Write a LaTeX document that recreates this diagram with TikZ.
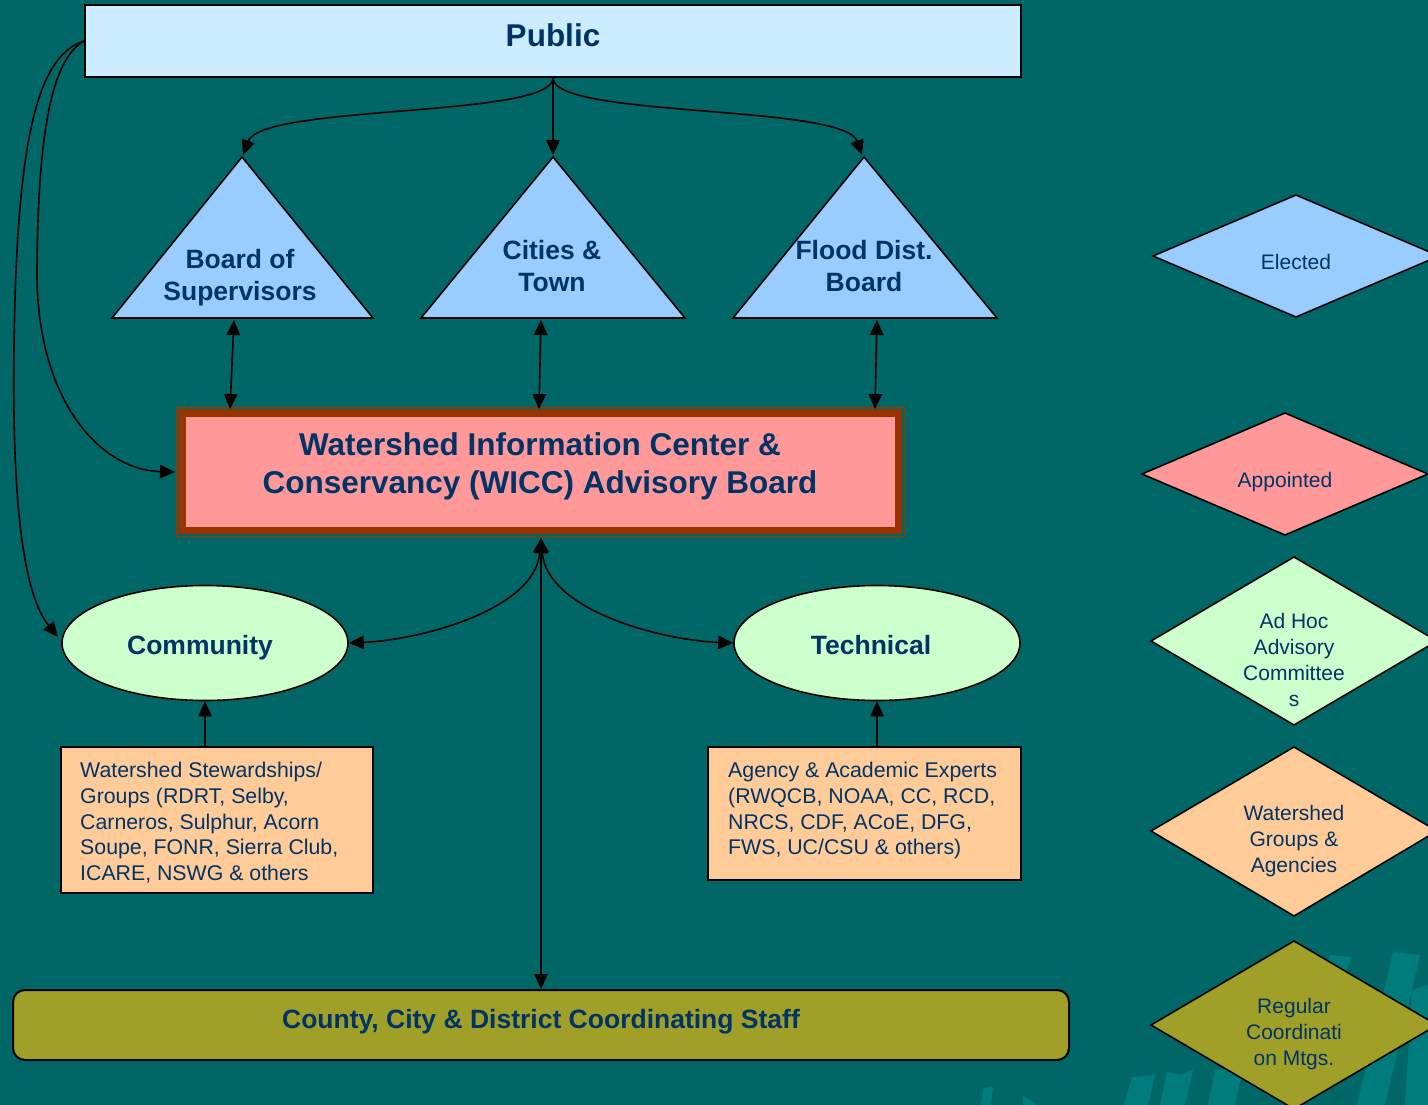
\documentclass[tikz,border=0pt]{standalone}
\usepackage{fontspec}
\setmainfont{Liberation Sans}
\usetikzlibrary{arrows.meta,shapes.geometric}
\definecolor{bgc}{RGB}{0,102,102}
\definecolor{wmc}{RGB}{0,124,124}
\definecolor{publicc}{RGB}{204,236,255}
\definecolor{tric}{RGB}{153,204,255}
\definecolor{pinkc}{RGB}{255,153,153}
\definecolor{brownc}{RGB}{153,51,0}
\definecolor{greenc}{RGB}{204,255,204}
\definecolor{orangec}{RGB}{255,204,153}
\definecolor{olivec}{RGB}{160,160,40}
\definecolor{navyc}{RGB}{0,51,102}
\begin{document}
\begin{tikzpicture}[x=1pt,y=-1pt,
  shapebox/.style={draw=black, line width=2pt, inner sep=0pt},
  tritext/.style={text=navyc, inner sep=0pt, align=center, anchor=north, font=\fontsize{26.5}{32}\selectfont\bfseries},
  bigtitle/.style={text=navyc, inner sep=0pt, font=\fontsize{31.5}{38}\selectfont\bfseries},
  bodytext/.style={text=navyc, inner sep=0pt, align=left, anchor=north west, font=\fontsize{21.3}{25.75}\selectfont},
  legtext/.style={text=navyc, inner sep=0pt, align=center, anchor=north, font=\fontsize{21}{26}\selectfont},
  tri/.style={fill=tric, draw=black, line width=1.6pt, line join=miter},
  leg/.style={draw=black, line width=1.6pt},
  arr/.style={line width=1.6pt, -{Triangle[length=15pt,width=13.5pt]}},
  darr/.style={line width=1.6pt, {Triangle[length=15pt,width=13.5pt]}-{Triangle[length=15pt,width=13.5pt]}}
]
\useasboundingbox (0,0) rectangle (1428,1105);
\fill[bgc] (0,0) rectangle (1428,1105);
\clip (0,0) rectangle (1428,1105);

% faint watermark
\fill[wmc] (1393,952) -- (1420,955) -- (1385,1105) -- (1357,1105) -- cycle;
\fill[wmc] (1330,955) -- (1352,957) -- (1335,1000) -- (1315,1000) -- cycle;
\fill[wmc] (1412,990) -- (1428,985) -- (1428,1105) -- (1405,1105) -- cycle;
\fill[wmc] (1132,1077) -- (1155,1075) -- (1148,1105) -- (1124,1105) -- cycle;
\fill[wmc] (1167,1072) -- (1180,1075) -- (1193,1070) -- (1185,1105) -- (1160,1105) -- cycle;
\fill[wmc] (1215,1070) -- (1243,1068) -- (1235,1105) -- (1208,1105) -- cycle;
\fill[wmc] (983,1088) -- (993,1087) -- (991,1105) -- (981,1105) -- cycle;
\fill[wmc] (1023,1095) -- (1037,1105) -- (1023,1105) -- cycle;

% Public
\node[shapebox, fill=publicc, minimum width=936pt, minimum height=72pt] (public) at (553,41) {};
\node[bigtitle] (publictext) at (553,35) {Public};

% Triangles
\path[tri] (112,318) -- (242,157) -- (373,318) -- cycle;
\path[tri] (421,318) -- (553,157) -- (685,318) -- cycle;
\path[tri] (733,318) -- (864,157) -- (997,318) -- cycle;
\coordinate (bosapex) at (243,155);
\coordinate (citapex) at (553,155);
\coordinate (floapex) at (862,155);
\coordinate (bosbase) at (234,320);
\coordinate (citbase) at (541,320);
\coordinate (flobase) at (877,320);
\node[tritext] (bostext) at (240,249) {Board of\\Supervisors};
\node[tritext] (cittext) at (552,240) {Cities \&\\Town};
\node[tritext] (flotext) at (864,240) {Flood Dist.\\Board};

% WICC
\draw[brownc, line width=1.5pt] (176.75,407.75) rectangle (904.25,536.25);
\node[draw=brownc, line width=7pt, fill=pinkc, minimum width=716pt, minimum height=117pt, inner sep=0pt] (wicc) at (540.5,472) {};
\node[bigtitle, align=center, anchor=north] (wicctext) at (540,432.5) {Watershed Information Center \&\\Conservancy (WICC) Advisory Board};
\coordinate (wiccbos) at (230,409);
\coordinate (wicccit) at (539,409);
\coordinate (wiccflo) at (875,409);
\coordinate (wiccleft) at (175,472);
\coordinate (wiccbot) at (541,538);

% Ellipses
\node[ellipse, draw=black, line width=1.6pt, fill=greenc, minimum width=286pt, minimum height=115pt, inner sep=0pt] (community) at (205,643) {};
\node[ellipse, draw=black, line width=1.6pt, fill=greenc, minimum width=286pt, minimum height=115pt, inner sep=0pt] (technical) at (877,643) {};
\node[tritext, anchor=base] (commtext) at (200,654.5) {Community};
\node[tritext, anchor=base] (techtext) at (871,654.5) {Technical};
\coordinate (commin) at (58,637);

% Orange boxes
\node[shapebox, fill=orangec, minimum width=312pt, minimum height=146pt] (lbox) at (217,820) {};
\node[bodytext] (ltext) at (80,762) {Watershed Stewardships/\\Groups (RDRT, Selby,\\Carneros, Sulphur, Acorn\\Soupe, FONR, Sierra Club,\\ICARE, NSWG \& others};
\node[shapebox, fill=orangec, minimum width=313pt, minimum height=133pt] (rbox) at (864.5,813.5) {};
\node[bodytext] (rtext) at (728,762) {Agency \& Academic Experts\\(RWQCB, NOAA, CC, RCD,\\NRCS, CDF, ACoE, DFG,\\FWS, UC/CSU \& others)};

% County
\node[draw=black, line width=2pt, fill=olivec, rounded corners=12pt, minimum width=1056pt, minimum height=70pt, inner sep=0pt] (county) at (541,1025) {};
\node[tritext, anchor=base] (countytext) at (541,1028.5) {County, City \& District Coordinating Staff};

% Connectors
\draw[arr] (public.south) .. controls (553,118) and (262,104) .. (bosapex);
\draw[arr] (public.south) -- (citapex);
\draw[arr] (public.south) .. controls (553,118) and (844,104) .. (floapex);
\draw[darr] (bosbase) -- (wiccbos);
\draw[darr] (citbase) -- (wicccit);
\draw[darr] (flobase) -- (wiccflo);
\draw[arr] (public.west) .. controls (40,55) and (20,130) .. (15,300) .. controls (10,480) and (20,590) .. (commin);
\draw[arr] (public.west) .. controls (50,60) and (38,140) .. (37,270) .. controls (36,400) and (100,470) .. (wiccleft);
\draw[darr] (wiccbot) .. controls (535,610) and (420,640) .. (community.east);
\draw[darr] (wiccbot) .. controls (547,610) and (660,640) .. (technical.west);
\draw[darr] (wiccbot) -- (county.north);
\draw[arr] (community.south |- lbox.north) -- (community.south);
\draw[arr] (technical.south |- rbox.north) -- (technical.south);

% Legend
\path[leg, fill=tric] (1153,256) -- (1296,195) -- (1439,256) -- (1296,317) -- cycle;
\node[legtext] (legelected) at (1296,254) {Elected};
\path[leg, fill=pinkc] (1142,474) -- (1285,413) -- (1428,474) -- (1285,535) -- cycle;
\node[legtext] (legappointed) at (1285,472) {Appointed};
\path[leg, fill=greenc] (1151,641) -- (1294,557) -- (1437,641) -- (1294,725) -- cycle;
\node[legtext] (legadhoc) at (1294,613.5) {Ad Hoc\\Advisory\\Committee\\s};
\path[leg, fill=orangec] (1151,831) -- (1294,747) -- (1437,831) -- (1294,916) -- cycle;
\node[legtext] (leggroups) at (1294,805) {Watershed\\Groups \&\\Agencies};
\path[leg, fill=olivec] (1151,1025) -- (1294,941) -- (1437,1025) -- (1294,1109) -- cycle;
\node[legtext] (legregular) at (1294,998) {Regular\\Coordinati\\on Mtgs.};
\end{tikzpicture}
\end{document}
